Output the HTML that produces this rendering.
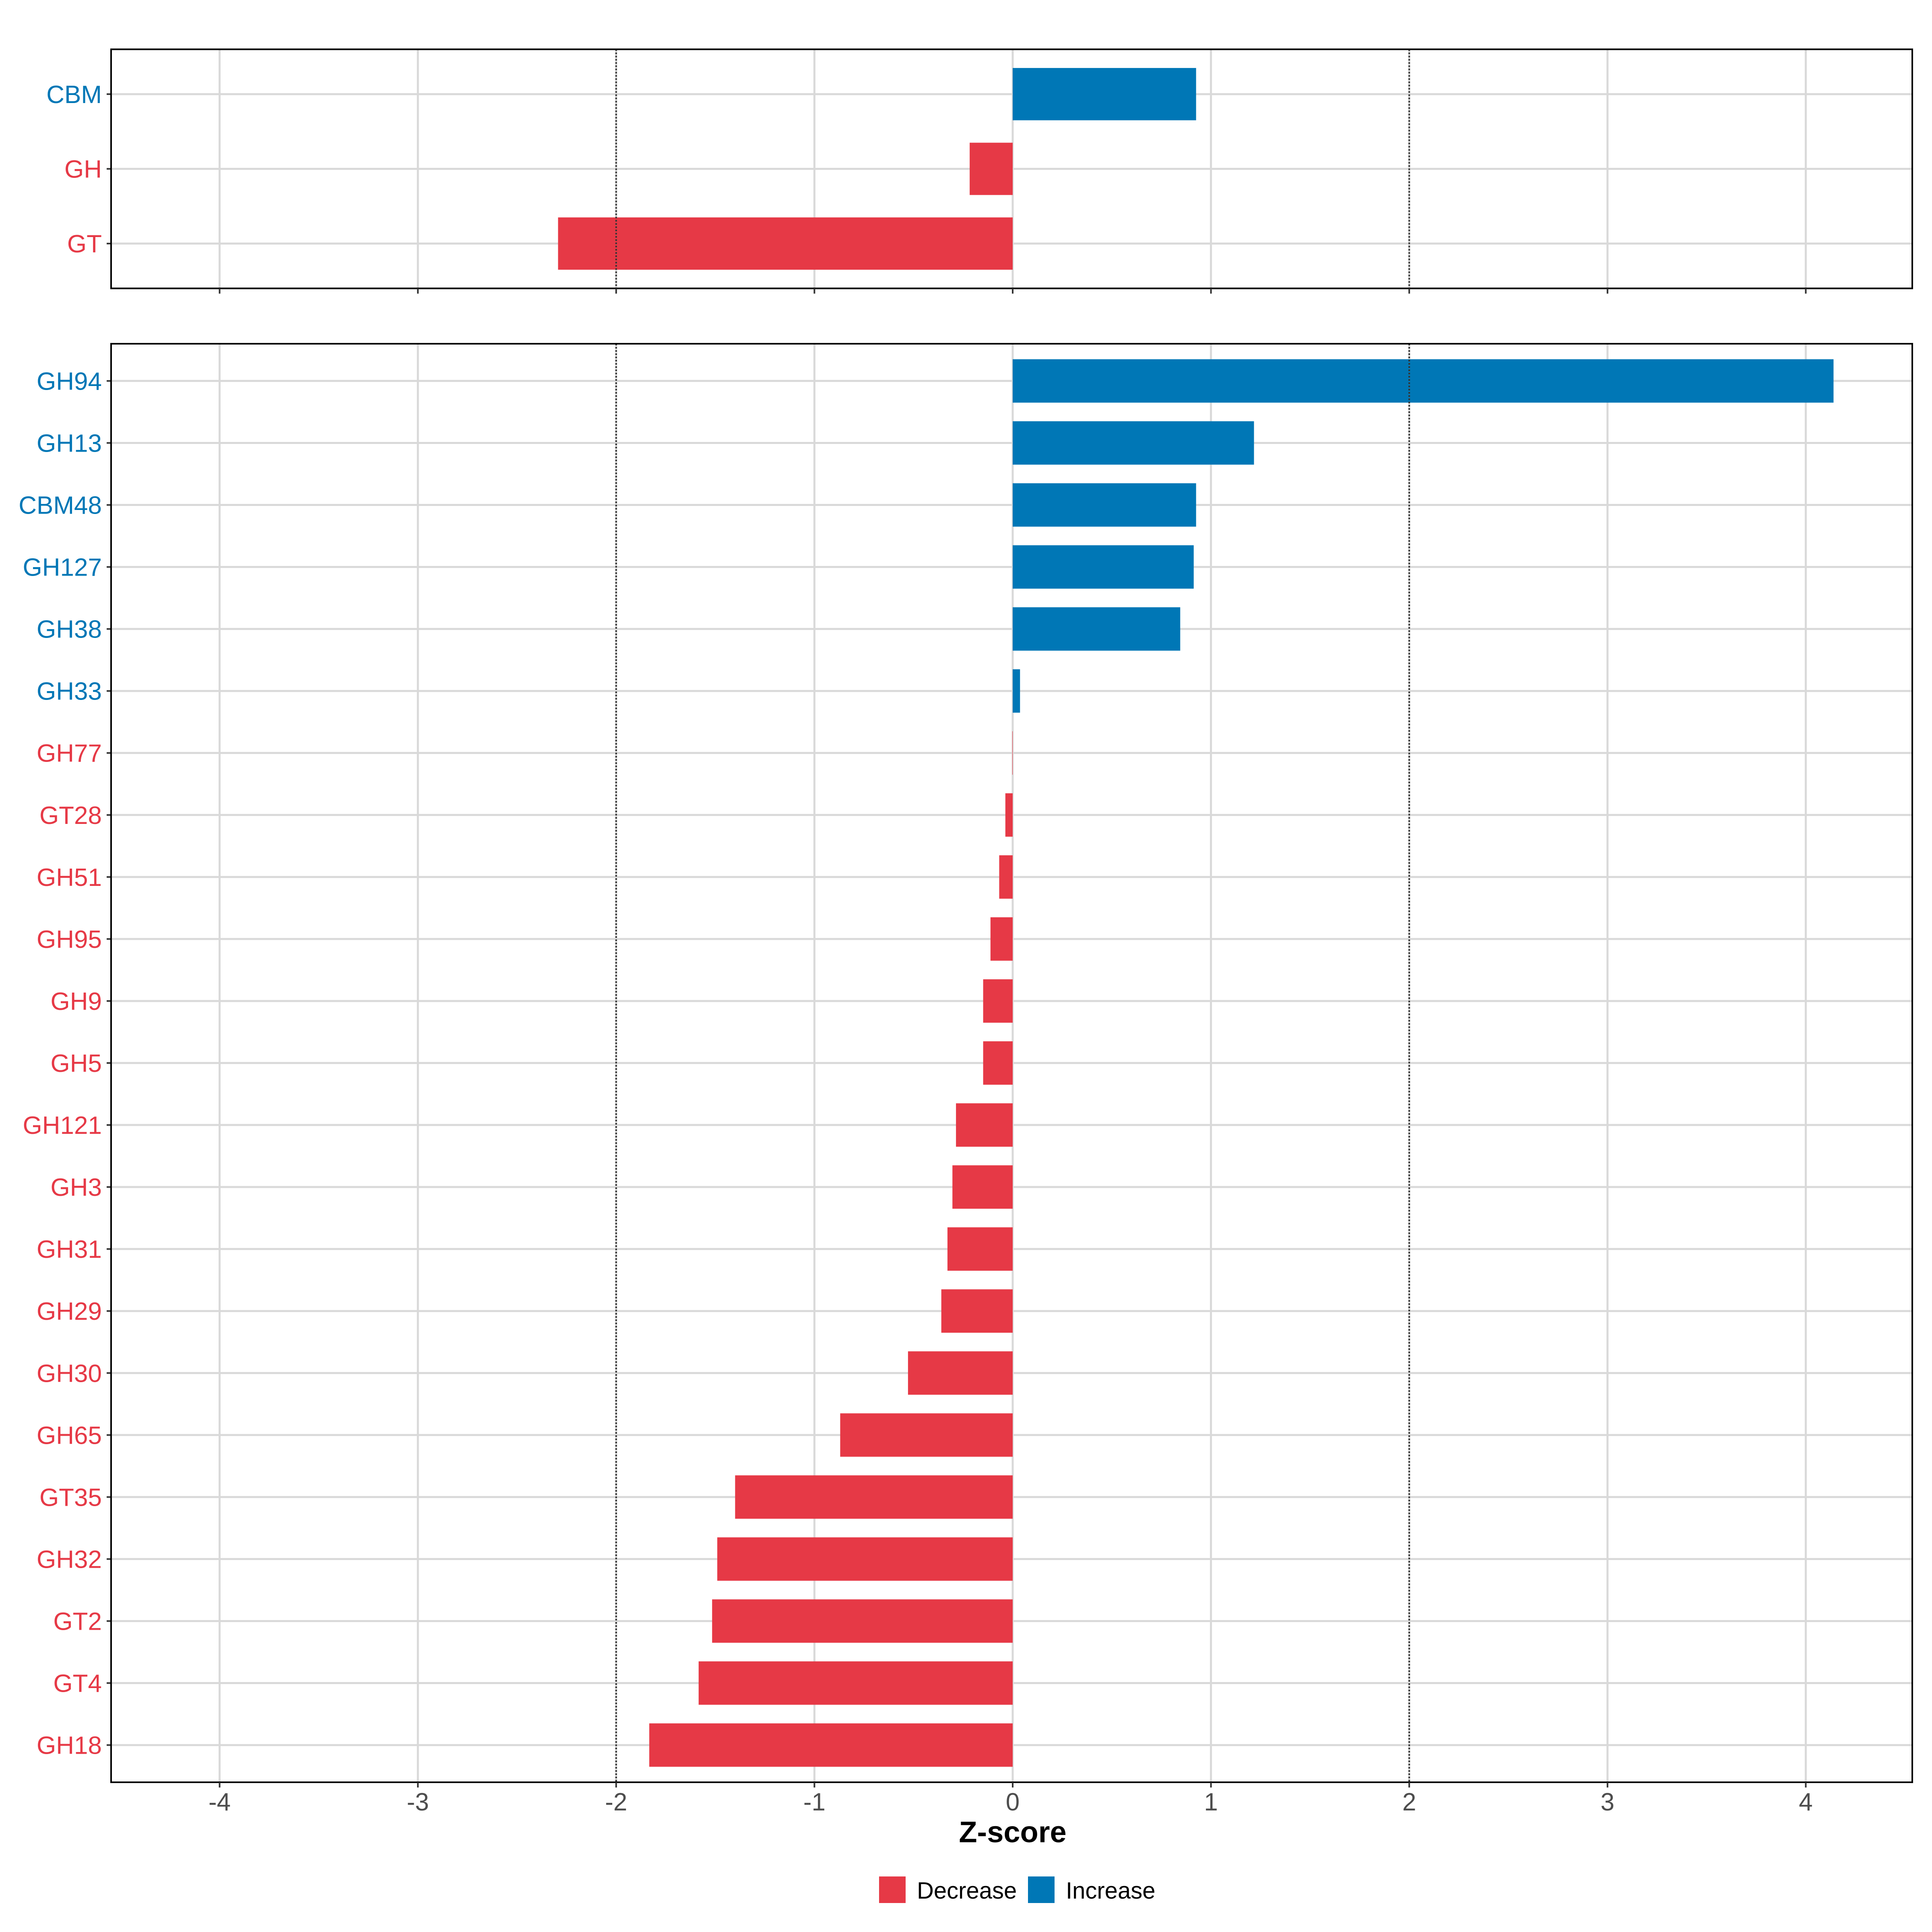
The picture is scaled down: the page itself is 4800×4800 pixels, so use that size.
<!DOCTYPE html>
<html><head><meta charset="utf-8"><style>html,body{margin:0;padding:0;background:#fff}svg{display:block}</style></head>
<body>
<svg id="chart" width="4800" height="4800" xmlns="http://www.w3.org/2000/svg" font-family="Liberation Sans, sans-serif"></svg>
<script>
const topCategories = ["CBM","GH","GT"];
const topValues = [0.925,-0.217,-2.293];
const bottomCategories = ["GH94","GH13","CBM48","GH127","GH38","GH33","GH77","GT28","GH51","GH95","GH9","GH5","GH121","GH3","GH31","GH29","GH30","GH65","GT35","GH32","GT2","GT4","GH18"];
const bottomValues = [4.14,1.217,0.925,0.913,0.845,0.037,-0.002,-0.037,-0.068,-0.112,-0.149,-0.149,-0.286,-0.304,-0.329,-0.36,-0.528,-0.87,-1.40,-1.49,-1.516,-1.584,-1.833];
const xTicks = [-4,-3,-2,-1,0,1,2,3,4];
const thresholds = [-2,2];
const legendLabels = ["Decrease","Increase"];

const svg = document.getElementById('chart');
const NS = 'http://www.w3.org/2000/svg';
const RED = '#E63946', BLUE = '#0077B6';
const L = 276, R = 4751;
function x(v){ return 2516 + v*492.6; }
function mk(tag, attrs, parent){ const e=document.createElementNS(NS,tag); for(const k in attrs) e.setAttribute(k,attrs[k]); (parent||svg).appendChild(e); return e; }

function panel(name, cats, vals, top, bottom){
  const g = mk('g',{});
  
  
  const step = (bottom-top)/(cats.length-1+1.2);
  const y = i => top + step*(0.6+i);
  xTicks.forEach(t=>{
    const l = mk('line',{x1:x(t),x2:x(t),y1:top,y2:bottom,stroke:'#d9d9d9','stroke-width':5},g);
    
    
  });
  cats.forEach((c,i)=>{
    const l = mk('line',{x1:L,x2:R,y1:y(i),y2:y(i),stroke:'#d9d9d9','stroke-width':5},g);
    
    
  });
  const bh = step*0.7;
  cats.forEach((c,i)=>{
    const v = vals[i];
    const r = mk('rect',{x:Math.min(x(0),x(v)),y:y(i)-bh/2,width:Math.abs(x(v)-x(0)),height:bh,fill:v>0?BLUE:RED},g);
    
    
    const t = mk('text',{x:253,y:y(i)+22,'text-anchor':'end','font-size':62,fill:v>0?BLUE:RED},g);
    t.textContent = c;
    
    
    mk('line',{x1:265,x2:276,y1:y(i),y2:y(i),stroke:'#333','stroke-width':4},g);
  });
  thresholds.forEach(t=>{
    const l = mk('line',{x1:x(t),x2:x(t),y1:top,y2:bottom,stroke:'#333','stroke-width':4,'stroke-dasharray':'4 4'},g);
    
    
  });
  const b = mk('rect',{x:L,y:top,width:R-L,height:bottom-top,fill:'none',stroke:'#000','stroke-width':4},g);
  
  
  xTicks.forEach(t=>{ mk('line',{x1:x(t),x2:x(t),y1:bottom,y2:bottom+13,stroke:'#333','stroke-width':4},g); });
}
panel('summary-panel', topCategories, topValues, 122.5, 716.5);
panel('family-panel', bottomCategories, bottomValues, 854, 4428);

xTicks.forEach(t=>{
  const e = mk('text',{x:x(t),y:4498,'text-anchor':'middle','font-size':62,fill:'#4d4d4d'});
  e.textContent = String(t);
  
  
});
const title = mk('text',{x:2516,y:4577,'text-anchor':'middle','font-size':74,'font-weight':'bold',fill:'#000'});
title.textContent = 'Z-score';



const legendX = [2184,2554];
const legendColors = [RED,BLUE];
legendLabels.forEach((lab,i)=>{
  const k = mk('rect',{x:legendX[i],y:4662,width:66,height:66,fill:legendColors[i]});
  
  
  const t = mk('text',{x:legendX[i]+94,y:4717,'font-size':58,fill:'#000'});
  t.textContent = lab;
  
  
});
</script>
</body></html>
